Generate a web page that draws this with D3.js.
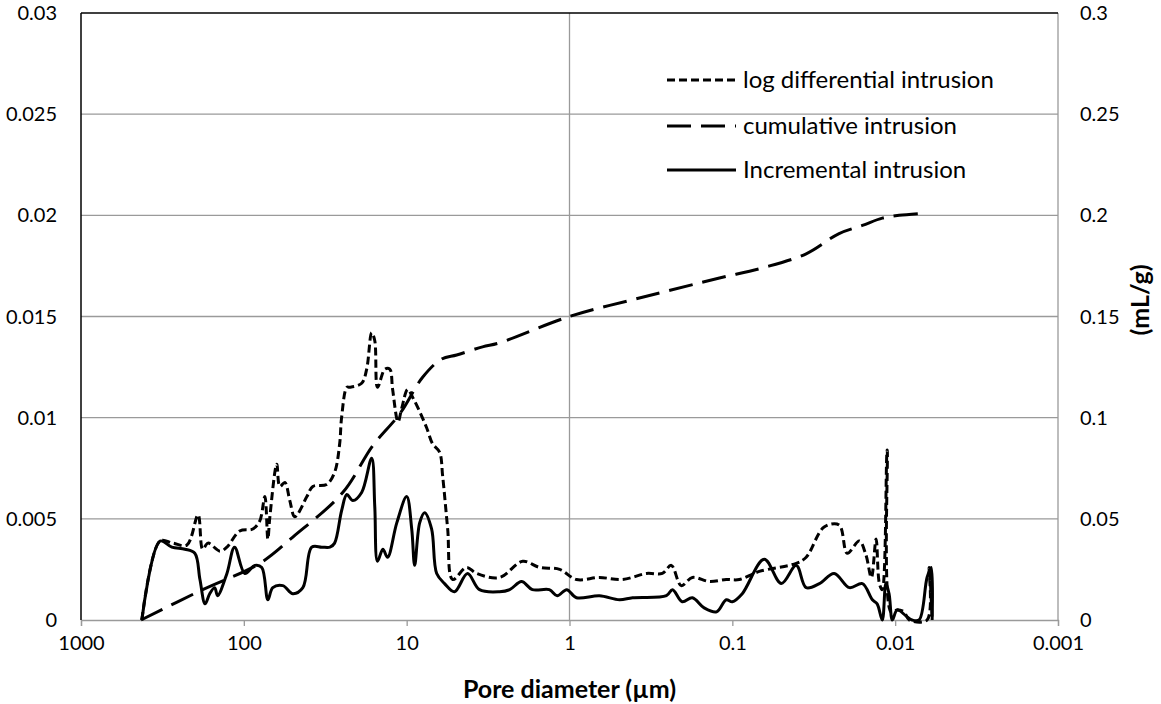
<!DOCTYPE html>
<html>
<head>
<meta charset="utf-8">
<script src="https://cdn.jsdelivr.net/npm/d3@7"></script>
<style>
  body { margin: 0; background: #fff; }
  text { font-family: Lato, "Open Sans", sans-serif; fill: #000; }
</style>
</head>
<body>
<script>
// pore diameter (µm) and values
const diffDiam = [423, 327, 273, 224, 191, 179, 166, 140, 127, 106, 88.1, 79.8, 74.3, 71.2, 69.2, 62.8, 60.1, 56.0, 52.2, 48.6, 41.0, 37.7, 31.0, 27.7, 25.8, 25.1, 23.3, 22.4, 18.9, 17.6, 16.4, 15.7, 15.1, 13.6, 12.7, 12.2, 11.3, 10.7, 9.86, 9.18, 8.32, 7.54, 6.92, 6.28, 6.01, 5.60, 5.22, 4.29, 3.72, 2.69, 1.94, 1.53, 1.15, 0.906, 0.655, 0.473, 0.337, 0.269, 0.237, 0.206, 0.176, 0.138, 0.109, 0.0906, 0.0683, 0.0405, 0.0352, 0.0273, 0.0221, 0.0197, 0.0166, 0.0151, 0.0140, 0.0131, 0.0125, 0.0120, 0.0112, 0.0106, 0.00972, 0.00881, 0.00820, 0.00637, 0.00618, 0.00593];
const diffVals = [0, 0.0039, 0.0038, 0.0037, 0.0052, 0.0035, 0.0038, 0.0034, 0.0036, 0.0044, 0.0045, 0.0049, 0.0061, 0.0040, 0.0051, 0.0077, 0.0066, 0.0068, 0.0059, 0.0051, 0.0061, 0.0066, 0.0067, 0.0073, 0.0087, 0.0100, 0.0115, 0.0115, 0.0117, 0.0124, 0.0142, 0.0138, 0.0115, 0.0124, 0.0124, 0.0114, 0.0098, 0.0105, 0.0114, 0.0110, 0.0103, 0.0095, 0.0087, 0.0083, 0.0071, 0.0045, 0.0020, 0.0026, 0.0023, 0.0021, 0.0029, 0.0026, 0.0025, 0.0020, 0.0021, 0.0020, 0.0023, 0.0023, 0.0027, 0.0017, 0.0021, 0.0019, 0.0020, 0.0020, 0.0024, 0.0028, 0.0031, 0.0046, 0.0047, 0.0033, 0.0039, 0.0032, 0.0021, 0.0040, 0.0018, 0.0015, 0.0084, 0.0004, 0.0005, 0.0004, 0, 0, 0.0026, 0];

const cumDiam = [428, 179, 79.8, 50.0, 24.7, 16.2, 11.0, 7.98, 6.09, 4.93, 3.42, 2.69, 1, 0.337, 0.120, 0.0655, 0.0352, 0.0221, 0.0159, 0.0120, 0.00945, 0.00683];
const cumVals = [0, 0.015, 0.028, 0.041, 0.063, 0.086, 0.102, 0.120, 0.129, 0.131, 0.135, 0.137, 0.150, 0.160, 0.169, 0.174, 0.181, 0.191, 0.195, 0.1986, 0.200, 0.201];

const incDiam = [423, 327, 277, 230, 200, 186, 173, 162, 151, 145, 127, 114, 98.6, 85.6, 77.6, 71.2, 66.4, 57.6, 50.0, 43.4, 38.3, 33.2, 29.6, 27.7, 25.1, 23.3, 21.4, 18.9, 16.4, 15.7, 15.1, 14.0, 13.1, 11.5, 10.0, 9.31, 8.93, 8.32, 7.76, 7.03, 6.54, 5.85, 5.08, 4.23, 3.57, 2.69, 2.33, 1.97, 1.69, 1.33, 1.19, 1.04, 0.906, 0.655, 0.493, 0.410, 0.254, 0.233, 0.203, 0.176, 0.149, 0.125, 0.109, 0.100, 0.0869, 0.0637, 0.0500, 0.0405, 0.0352, 0.0292, 0.0237, 0.0191, 0.0159, 0.0138, 0.0129, 0.0120, 0.0114, 0.0109, 0.0104, 0.00972, 0.00857, 0.00787, 0.00713, 0.00637, 0.00601, 0.00593];
const incVals = [0, 0.0039, 0.0036, 0.0035, 0.0033, 0.0020, 0.0008, 0.0013, 0.0016, 0.0012, 0.0023, 0.0036, 0.0023, 0.0027, 0.0026, 0.0010, 0.0016, 0.0017, 0.0013, 0.0016, 0.0036, 0.0036, 0.0036, 0.0038, 0.0054, 0.0062, 0.0059, 0.0063, 0.0080, 0.0056, 0.0029, 0.0035, 0.0031, 0.0048, 0.0061, 0.0045, 0.0027, 0.0048, 0.0053, 0.0045, 0.0023, 0.0018, 0.0014, 0.0023, 0.0015, 0.0014, 0.0015, 0.0019, 0.0015, 0.0015, 0.0012, 0.0015, 0.0011, 0.0012, 0.0010, 0.0011, 0.0012, 0.0015, 0.0009, 0.0011, 0.0006, 0.0004, 0.0010, 0.0009, 0.0013, 0.0030, 0.0018, 0.0027, 0.0016, 0.0018, 0.0023, 0.0016, 0.0018, 0.0010, 0.0008, 0, 0.0018, 0.0013, 0, 0.0005, 0.0002, 0, 0, 0.0021, 0.0026, 0];

const xTicks = [1000, 100, 10, 1, 0.1, 0.01, 0.001];
const leftTicks = [0, 0.005, 0.01, 0.015, 0.02, 0.025, 0.03];
const rightTicks = [0, 0.05, 0.1, 0.15, 0.2, 0.25, 0.3];
const legendNames = ["log differential intrusion", "cumulative intrusion", "Incremental intrusion"];

const W = 1161, H = 704;
const plotL = 81, plotR = 1058, plotT = 13, plotB = 620;

const svg = d3.select("body").append("svg").attr("width", W).attr("height", H);

const x = d3.scaleLog().domain([1000, 0.001]).range([plotL, plotR]);
const yL = d3.scaleLinear().domain([0, 0.03]).range([plotB, plotT]);
const yR = d3.scaleLinear().domain([0, 0.3]).range([plotB, plotT]);

// horizontal grid
svg.append("g").selectAll("line").data(leftTicks.slice(1, -1)).join("line")
  .attr("x1", plotL).attr("x2", plotR)
  .attr("y1", d => yL(d)).attr("y2", d => yL(d))
  .attr("stroke", "#9a9a9a").attr("stroke-width", 1.3);

// vertical line at 1 µm
svg.append("line").attr("x1", x(1)).attr("x2", x(1)).attr("y1", plotT).attr("y2", plotB)
  .attr("stroke", "#9a9a9a").attr("stroke-width", 1.3);

// bottom axis
const xAxis = d3.axisBottom(x).tickValues(xTicks).tickSize(6).tickPadding(10)
  .tickFormat(d => String(d));
const gx = svg.append("g").attr("transform", `translate(0,${plotB})`).call(xAxis);
gx.select(".domain").attr("stroke", "#9a9a9a").attr("stroke-width", 1.3);
gx.selectAll(".tick line").attr("stroke", "#9a9a9a").attr("stroke-width", 1.3);
gx.selectAll("text").attr("font-size", 20).attr("font-family", "Lato");

// right axis (gray)
svg.append("line").attr("x1", plotR).attr("x2", plotR).attr("y1", plotT).attr("y2", plotB)
  .attr("stroke", "#9a9a9a").attr("stroke-width", 1.3);
// left & top borders (black)
svg.append("line").attr("x1", plotL).attr("x2", plotL).attr("y1", plotT).attr("y2", plotB)
  .attr("stroke", "#000").attr("stroke-width", 1.5);
svg.append("line").attr("x1", plotL).attr("x2", plotR).attr("y1", plotT).attr("y2", plotT)
  .attr("stroke", "#000").attr("stroke-width", 1.5);

// left tick labels
svg.append("g").selectAll("text").data(leftTicks).join("text")
  .attr("x", plotL - 24).attr("y", d => yL(d)).attr("dy", "0.35em")
  .attr("text-anchor", "end").attr("font-size", 20)
  .text(d => String(d));

// right tick labels
svg.append("g").selectAll("text").data(rightTicks).join("text")
  .attr("x", plotR + 22).attr("y", d => yR(d)).attr("dy", "0.35em")
  .attr("text-anchor", "start").attr("font-size", 20)
  .text(d => String(d));

// axis titles
svg.append("text").attr("x", (plotL + plotR) / 2).attr("y", 698)
  .attr("text-anchor", "middle").attr("font-size", 25).attr("font-weight", "bold")
  .text("Pore diameter (µm)");
svg.append("text").attr("transform", "translate(1149,300) rotate(-90)")
  .attr("text-anchor", "middle").attr("font-size", 25).attr("font-weight", "bold")
  .text("(mL/g)");

// series
const styles = [
  { dash: "8,4" },
  { dash: "24,10" },
  { dash: null }
];

const lineL = d3.line().x(d => x(d[0])).y(d => yL(d[1])).curve(d3.curveCatmullRom);
const lineR = d3.line().x(d => x(d[0])).y(d => yR(d[1])).curve(d3.curveCatmullRom);

svg.append("path").datum(d3.zip(cumDiam, cumVals)).attr("d", lineR)
  .attr("fill", "none").attr("stroke", "#000").attr("stroke-width", 3)
  .attr("stroke-dasharray", styles[1].dash);
svg.append("path").datum(d3.zip(diffDiam, diffVals)).attr("d", lineL)
  .attr("fill", "none").attr("stroke", "#000").attr("stroke-width", 3)
  .attr("stroke-dasharray", styles[0].dash);
svg.append("path").datum(d3.zip(incDiam, incVals)).attr("d", lineL)
  .attr("fill", "none").attr("stroke", "#000").attr("stroke-width", 3)
  .attr("stroke-linejoin", "round");

// legend
const legY = [80, 126, 170];
const leg = svg.append("g").selectAll("g").data(legendNames).join("g")
  .attr("transform", (d, i) => `translate(667,${legY[i]})`);
leg.append("line").attr("x1", 0).attr("x2", 69).attr("y1", 0).attr("y2", 0)
  .attr("stroke", "#000").attr("stroke-width", 3)
  .attr("stroke-dasharray", (d, i) => styles[i].dash);
leg.append("text").attr("x", 76).attr("dy", "0.35em").attr("font-size", 24)
  .text(d => d);
</script>
</body>
</html>
